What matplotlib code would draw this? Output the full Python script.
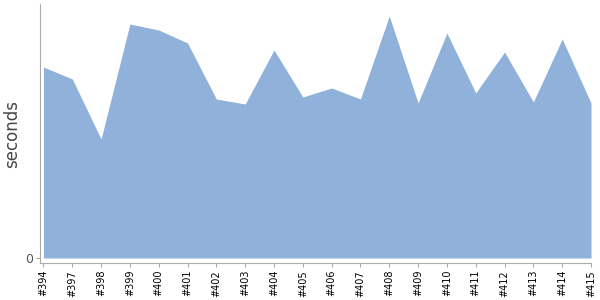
import numpy as np
import matplotlib
matplotlib.use('Agg')
import matplotlib.pyplot as plt

################################################################################
# Data

builds = ['#394', '#397', '#398', '#399', '#400', '#401', '#402', '#403', '#404', '#405',
          '#406', '#407', '#408', '#409', '#410', '#411', '#412', '#413', '#414', '#415']
seconds = [191, 179, 119, 234, 228, 215, 159, 154, 208, 161,
           170, 159, 242, 155, 225, 165, 206, 156, 219, 155]

################################################################################
# Plot

fig = plt.figure(figsize=(6, 3), dpi=100)
ax = fig.add_axes([40/600, 1-263/300, 551/600, 259/300])

x = np.arange(len(builds))
ax.fill_between(x, 0, seconds, color='#8fb1da', linewidth=0)

ax.set_xlim(-0.12, len(builds)-1)
ax.set_ylim(-5, 254)

ax.set_xticks(x)
ax.set_xticklabels(builds, rotation=90, fontsize=7, color='black')
ax.set_yticks([0])
ax.set_yticklabels(['0'], fontsize=9, color='#555555')
ax.tick_params(axis='both', length=3, width=0.8, color='#aaaaaa', pad=2)

ax.set_ylabel('seconds', fontsize=12, color='#444444', labelpad=3)

for side in ['top', 'right']:
	ax.spines[side].set_visible(False)
for side in ['left', 'bottom']:
	ax.spines[side].set_color('#aaaaaa')
	ax.spines[side].set_linewidth(0.8)

fig.savefig('out.png', dpi=100)
